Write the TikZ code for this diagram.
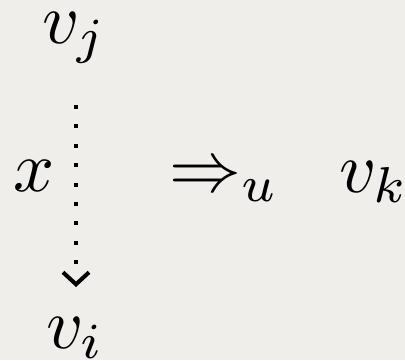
\documentclass[tikz,border=0pt]{standalone}
\usetikzlibrary{arrows.meta}
\definecolor{paper}{HTML}{EFEEEA}
\begin{document}
\begin{tikzpicture}[x=0.5pt,y=-0.5pt,
  lbl/.style={inner sep=0pt, outer sep=0pt, scale=3.6, anchor=base west},
  dotline/.style={line width=2pt,
    dash pattern=on 2pt off 7.6875pt on 2pt off 7.6875pt on 2pt off 7.6875pt on 2pt off 7.6875pt on 2pt off 7.6875pt on 2pt off 7.6875pt on 2pt off 7.6875pt on 2pt off 7.6875pt on 2pt off 40pt,
    -{Straight Barb[length=6pt,width=13pt]}}]
\fill[paper] (0,0) rectangle (405,360);
\useasboundingbox (0,0) rectangle (405,360);
\node[lbl] (vj) at (42,43) {$v_j$};
\node[lbl] (vi) at (46,348) {$v_i$};
\node[lbl] (x) at (13,191) {$x$};
\node[lbl] (imp) at (169,191) {$\Rightarrow_u$};
\node[lbl] (vk) at (339,192) {$v_k$};
\coordinate (s) at (76,105);
\coordinate (t) at (76,287);
\draw[dotline] (s) -- (t);
\end{tikzpicture}
\end{document}
